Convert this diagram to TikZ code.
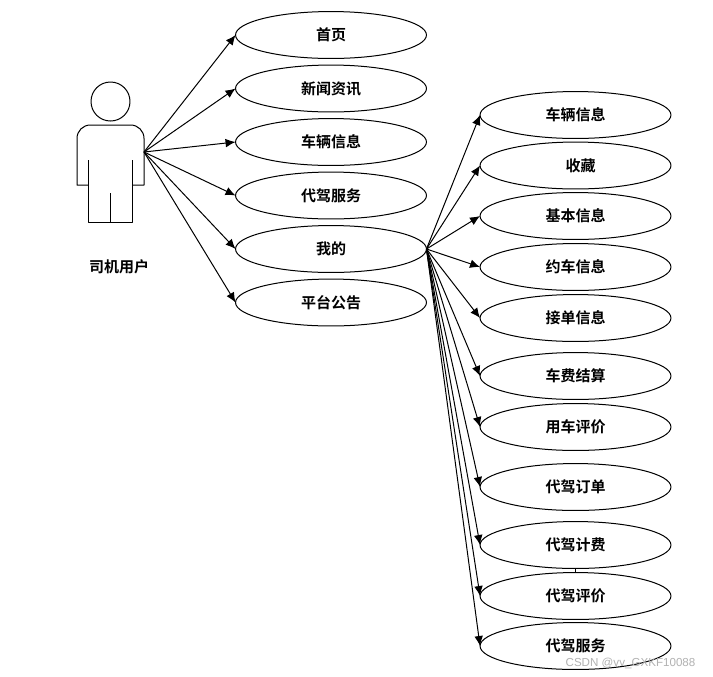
\documentclass[tikz,border=0pt]{standalone}
\usepackage{fontspec}
\setmainfont{Noto Sans CJK SC}[BoldFont={Noto Sans CJK SC Bold}]
\newfontfamily\wmfont{Liberation Sans}
\usetikzlibrary{shapes.geometric,arrows.meta}
\tikzset{
  uc/.style={ellipse,draw=black,line width=0.75pt,fill=white,minimum width=143.2pt,minimum height=35.2pt,inner sep=0pt,outer sep=0pt,font=\bfseries\fontsize{11.25pt}{13pt}\selectfont},
  conn/.style={draw=black,line width=0.75pt,-{Latex[length=7.5pt,width=6.5pt]},shorten >=0pt},
  actorline/.style={draw=black,line width=0.75pt,line join=round},
  actorcaption/.style={font=\bfseries\fontsize{11.25pt}{13pt}\selectfont,inner sep=0pt}
}
\begin{document}
\begin{tikzpicture}[x=0.75pt,y=-0.75pt]
\useasboundingbox (0,0) rectangle (713,676);
\fill[white] (0,0) rectangle (713,676);
% actor
\draw[actorline] (110.5,101.5) circle (19.5);
\draw[actorline,rounded corners=10pt] (88.5,185) [sharp corners] -- (77,185) [rounded corners=10pt] -- (77,125) -- (144,125) [sharp corners] -- (144,185) -- (132.5,185);
\draw[actorline] (88.5,160) -- (88.5,222) -- (132.5,222) -- (132.5,160);
\draw[actorline] (110.5,193) -- (110.5,222);
\coordinate (actor) at (144,152);
\node[actorcaption] (actorname) at (119,267) {司机用户};
% left column
\node[uc] (a1) at (331,35) {首页};
\node[uc] (a2) at (331,88.5) {新闻资讯};
\node[uc] (a3) at (331,142) {车辆信息};
\node[uc] (a4) at (331,195.5) {代驾服务};
\node[uc] (a5) at (331,249) {我的};
\node[uc] (a6) at (331,302.5) {平台公告};
% right column
\node[uc] (b1) at (575.5,115) {车辆信息};
\node[uc] (b2) at (575.5,165.5) {\hspace*{7.5pt}收藏};
\node[uc] (b3) at (575.5,216) {基本信息};
\node[uc] (b4) at (575.5,267) {约车信息};
\node[uc] (b5) at (575.5,318) {接单信息};
\node[uc] (b6) at (575.5,376) {车费结算};
\node[uc] (b7) at (575.5,427) {用车评价};
\node[uc] (b8) at (575.5,487) {代驾订单};
\node[uc] (b9) at (575.5,545) {代驾计费};
\node[uc] (b10) at (575.5,596) {代驾评价};
\node[uc] (b11) at (575.5,646) {代驾服务};
\foreach \n in {a1,a2,a3,a4,a5,a6} \draw[conn] (actor) -- (\n.west);
\foreach \n in {b1,b2,b3,b4,b5,b6,b7,b8,b9,b10,b11} \draw[conn] (a5.east) -- (\n.west);
\draw[draw=black,line width=0.75pt] (b9.south) -- (b10.north);
\node[font=\wmfont\fontsize{8.7pt}{10pt}\selectfont,text=black!30,inner sep=0pt] (wm) at (630.5,663.5) {CSDN @vv\_GXKF10088};
\end{tikzpicture}
\end{document}
